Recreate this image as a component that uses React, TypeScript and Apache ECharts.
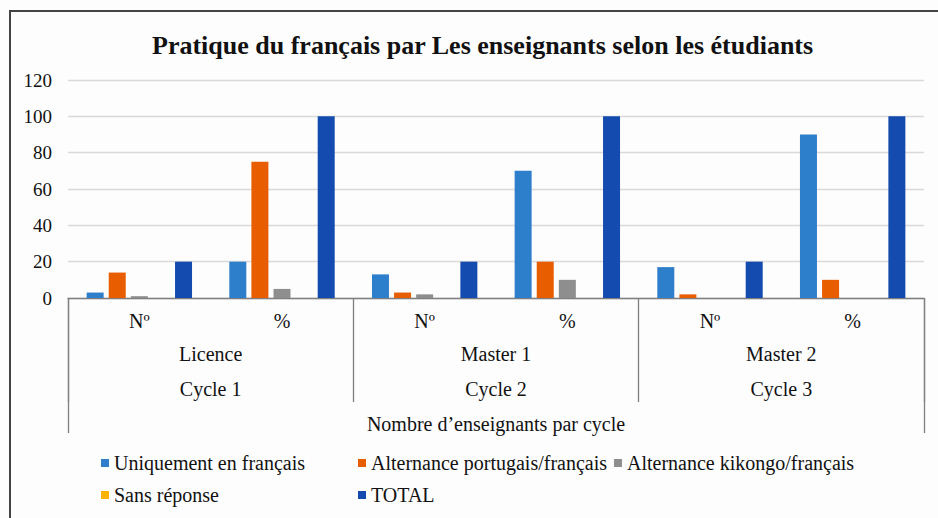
import React, { useEffect, useRef } from "react";
import * as echarts from "echarts";

const subCategories = ["Nº", "%", "Nº", "%", "Nº", "%"];
const levels = ["Licence", "Master 1", "Master 2"];
const cycles = ["Cycle 1", "Cycle 2", "Cycle 3"];
const axisTitle = ["Nombre d’enseignants par cycle"];
const yTicks = [0, 20, 40, 60, 80, 100, 120];

const seriesNames = [
  "Uniquement en français",
  "Alternance portugais/français",
  "Alternance kikongo/français",
  "Sans réponse",
  "TOTAL",
];
const uniquement = [3, 20, 13, 70, 17, 90];
const portugais = [14, 75, 3, 20, 2, 10];
const kikongo = [1, 5, 2, 10, 0, 0];
const sansReponse = [0, 0, 0, 0, 0, 0];
const total = [20, 100, 20, 100, 20, 100];
const seriesValues = [uniquement, portugais, kikongo, sansReponse, total];
const colors = ["#2E7FCB", "#E85D00", "#8E8E8E", "#FFB300", "#144BAF"];

const FONT = "Liberation Serif";

export default function App() {
  const ref = useRef<HTMLDivElement>(null);
  useEffect(() => {
    if (!ref.current) return;
    const chart = echarts.init(ref.current, undefined, { renderer: "svg" });
    const textBase = { fontFamily: FONT, color: "#111" };
    const legendSlots = [
      { left: 101, top: 453 },
      { left: 358, top: 453 },
      { left: 614, top: 453 },
      { left: 101, top: 485 },
      { left: 358, top: 485 },
    ];
    const legends = seriesNames.map((name, i) => ({
      ...legendSlots[i],
      orient: "horizontal",
      padding: 0,
      itemWidth: 8,
      itemHeight: 8,
      icon: "rect",
      textStyle: { ...textBase, fontSize: 20 },
      data: [name],
    }));
    chart.setOption({
      animation: false,
      backgroundColor: "#FDFDFD",
      textStyle: { fontFamily: FONT },
      title: {
        text: "Pratique du français par Les enseignants selon les étudiants",
        left: 147,
        top: 27,
        textStyle: { ...textBase, fontSize: 26, fontWeight: "bold" },
      },
      graphic: [
        {
          type: "rect",
          shape: { x: 10, y: 11, width: 1000, height: 600 },
          style: { fill: "none", stroke: "#444", lineWidth: 2 },
          silent: true,
        },
      ],
      legend: legends,
      grid: { left: 68, right: 14, top: 80, bottom: 220, containLabel: false },
      yAxis: {
        type: "value",
        min: yTicks[0],
        max: yTicks[yTicks.length - 1],
        interval: 20,
        axisLine: { show: false },
        axisTick: { show: false },
        axisLabel: { ...textBase, fontSize: 19, margin: 16 },
        splitLine: { lineStyle: { color: "#D9D9D9", width: 1.3 } },
      },
      xAxis: [
        {
          type: "category",
          position: "bottom",
          data: subCategories,
          axisLine: { lineStyle: { color: "#7F7F7F", width: 1.3 } },
          axisTick: { show: false },
          axisLabel: { ...textBase, fontSize: 20, margin: 13 },
        },
        {
          type: "category",
          position: "bottom",
          data: levels,
          axisLine: { show: false },
          axisTick: { show: true, length: 104, lineStyle: { color: "#7F7F7F", width: 1.3 } },
          axisLabel: { ...textBase, fontSize: 20, margin: 46 },
        },
        {
          type: "category",
          position: "bottom",
          data: cycles,
          axisLine: { show: false },
          axisTick: { show: false },
          axisLabel: { ...textBase, fontSize: 20, margin: 81 },
        },
        {
          type: "category",
          position: "bottom",
          data: axisTitle,
          axisLine: { show: false },
          axisTick: { show: true, length: 135, lineStyle: { color: "#7F7F7F", width: 1.3 } },
          axisLabel: { ...textBase, fontSize: 20, margin: 116 },
        },
      ],
      series: seriesNames.map((name, i) => ({
        name,
        type: "bar",
        xAxisIndex: 0,
        data: seriesValues[i],
        barWidth: 17,
        barGap: "30%",
        itemStyle: { color: colors[i] },
      })),
    });
    return () => chart.dispose();
  }, []);
  return (
    <div
      ref={ref}
      style={{ position: "fixed", left: 0, top: 0, width: 938, height: 518 }}
    />
  );
}
